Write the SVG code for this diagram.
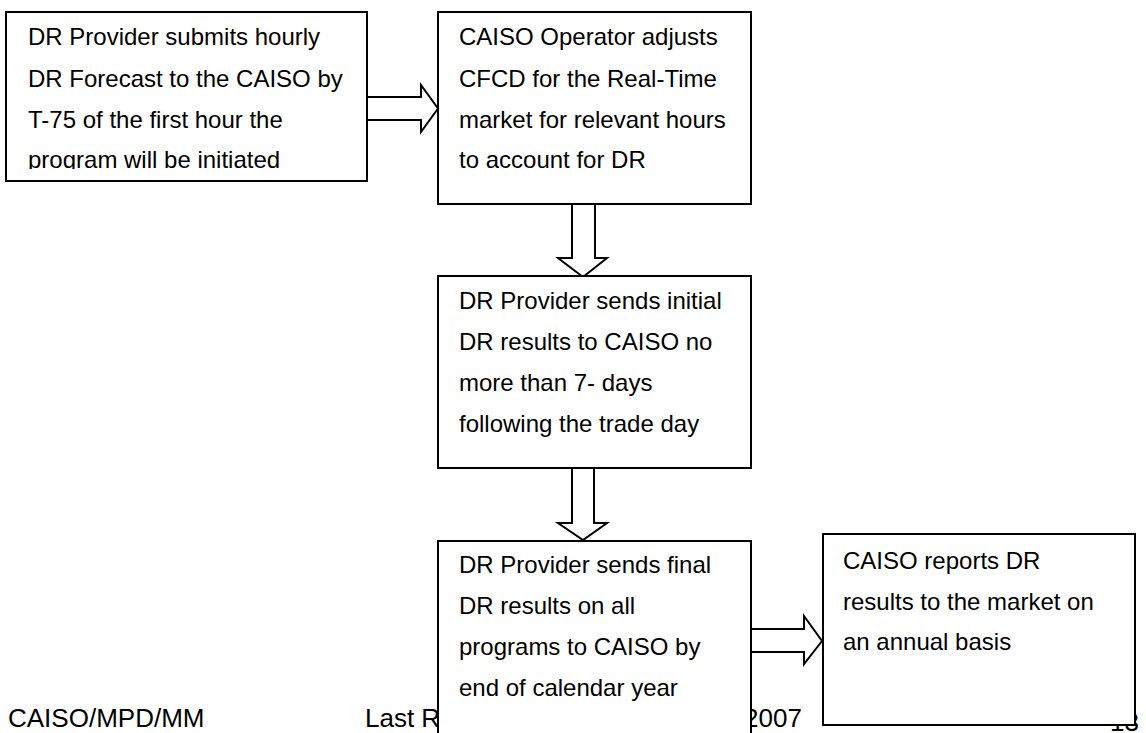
<svg xmlns="http://www.w3.org/2000/svg" width="1146" height="733" viewBox="0 0 1146 733">
<style>
.box{fill:#fff;stroke:#000;stroke-width:2}
.arrow{fill:#fff;stroke:#000;stroke-width:2;stroke-linejoin:miter}
text{font-family:"Liberation Sans",Arial,sans-serif;font-size:24px;fill:#000}
.foot{font-size:26px}
</style>
<defs>
<clipPath id="clip1"><rect x="6" y="12" width="361" height="157"/></clipPath>
</defs>
<rect width="1146" height="733" fill="#fff"/>
<g id="footer">
<text class="foot" x="8" y="727">CAISO/MPD/MM</text>
<text class="foot" x="365" y="727">Last R</text>
<text class="foot" x="744" y="727">2007</text>
<text class="foot" x="1110" y="731">13</text>
</g>
<g id="connectors">
<polygon class="arrow" points="367,97 421,97 421,85 438,108.5 421,132 421,120 367,120"/>
<polygon class="arrow" points="572,204 572,258 558,258 583,277 607,258 595,258 595,204"/>
<polygon class="arrow" points="572,468 572,523 558,523 583,540 607,523 594,523 594,468"/>
<polygon class="arrow" points="751,629 804,629 804,616 822,641 804,664 804,652 751,652"/>
</g>
<g id="n1">
<rect class="box" x="6" y="12" width="361" height="169"/>
<g clip-path="url(#clip1)">
<text x="28" y="45">DR Provider submits hourly</text>
<text x="28" y="87">DR Forecast to the CAISO by</text>
<text x="28" y="128">T-75 of the first hour the</text>
<text x="28" y="168">program will be initiated</text>
</g>
</g>
<g id="n2">
<rect class="box" x="438" y="12" width="313" height="192"/>
<text x="459" y="45">CAISO Operator adjusts</text>
<text x="459" y="87">CFCD for the Real-Time</text>
<text x="459" y="128">market for relevant hours</text>
<text x="459" y="168">to account for DR</text>
</g>
<g id="n3">
<rect class="box" x="438" y="276" width="313" height="192"/>
<text x="459" y="309">DR Provider sends initial</text>
<text x="459" y="350">DR results to CAISO no</text>
<text x="459" y="391">more than 7- days</text>
<text x="459" y="432">following the trade day</text>
</g>
<g id="n4">
<rect class="box" x="438" y="541" width="313" height="220"/>
<text x="459" y="573">DR Provider sends final</text>
<text x="459" y="614">DR results on all</text>
<text x="459" y="655">programs to CAISO by</text>
<text x="459" y="696">end of calendar year</text>
</g>
<g id="n5">
<rect class="box" x="823" y="534" width="312" height="191"/>
<text x="843" y="569">CAISO reports DR</text>
<text x="843" y="610">results to the market on</text>
<text x="843" y="650">an annual basis</text>
</g>
</svg>
